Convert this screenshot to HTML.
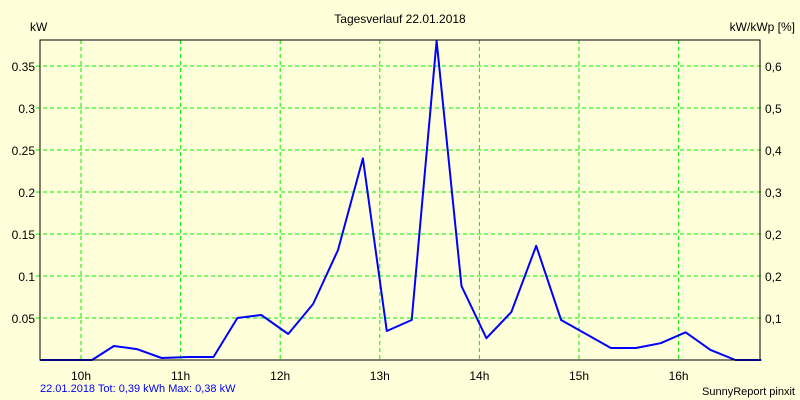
<!DOCTYPE html>
<html><head><meta charset="utf-8"><style>
body{margin:0;background:#ffffd9;}
svg{display:block;font-family:"Liberation Sans",sans-serif;font-size:12px;}
</style></head><body>
<svg width="800" height="400">
<rect width="800" height="400" fill="#ffffd9"/>
<g id="grid"></g>
<g id="ticks"></g>
<path id="line" fill="none" stroke="#0000ff" stroke-width="2" stroke-linejoin="round"/>
<rect x="40" y="40" width="720" height="320" fill="none" stroke="#000" stroke-width="1"/>
<text x="400" y="23" text-anchor="middle">Tagesverlauf 22.01.2018</text>
<text x="30" y="31">kW</text>
<text x="795" y="31" text-anchor="end">kW/kWp [%]</text>
<text x="40" y="392" fill="#0000ff" font-size="11">22.01.2018 Tot: 0,39 kWh Max: 0,38 kW</text>
<text x="795" y="395" text-anchor="end" font-size="11">SunnyReport pinxit</text>
</svg>
<script>
const times=[9.59,10.11,10.33,10.56,10.81,11.08,11.33,11.57,11.81,12.08,12.33,12.58,12.83,13.07,13.32,13.57,13.82,14.07,14.32,14.57,14.82,15.07,15.32,15.57,15.82,16.07,16.32,16.57,16.83];
const kw=[0,0,0.0167,0.013,0.0024,0.0036,0.0036,0.05,0.0536,0.031,0.0667,0.131,0.24,0.0345,0.0476,0.38,0.088,0.026,0.057,0.136,0.0476,0.031,0.0143,0.0143,0.02,0.033,0.012,0,0];
const hourTicks=[10,11,12,13,14,15,16];
const leftTicks=[0.05,0.1,0.15,0.2,0.25,0.3,0.35];
const leftLabels=["0.05","0.1","0.15","0.2","0.25","0.3","0.35"];
const rightLabels=["0,1","0,2","0,2","0,3","0,4","0,5","0,6"];
const NS="http://www.w3.org/2000/svg";
function xs(h){return 81+(h-10)*99.6;}
function ys(v){return 360-v*840;}
const grid=document.getElementById('grid'),ticks=document.getElementById('ticks');
function mk(tag,attrs,parent,txt){const e=document.createElementNS(NS,tag);for(const k in attrs)e.setAttribute(k,attrs[k]);if(txt!==undefined)e.textContent=txt;parent.appendChild(e);return e;}
hourTicks.forEach(h=>{
 const x=xs(h);
 const l=mk('line',{x1:x,x2:x,y1:40,y2:360,stroke:'#00ee00','stroke-dasharray':'4,3'},grid);
 
 
 const t=mk('text',{x:x,y:380,'text-anchor':'middle'},ticks,h+'h');
 
 
});
leftTicks.forEach((v,i)=>{
 const y=ys(v);
 const l=mk('line',{x1:36,x2:764,y1:y,y2:y,stroke:'#00ee00','stroke-dasharray':'4,3'},grid);
 
 
 const t=mk('text',{x:35,y:y+5,'text-anchor':'end'},ticks,leftLabels[i]);
 
 
 const r=mk('text',{x:765,y:y+5},ticks,rightLabels[i]);
 
 
});
document.getElementById('line').setAttribute('d',times.map((t,i)=>(i?'L':'M')+xs(t).toFixed(1)+','+ys(kw[i]).toFixed(1)).join(' '));
</script>
</body></html>
